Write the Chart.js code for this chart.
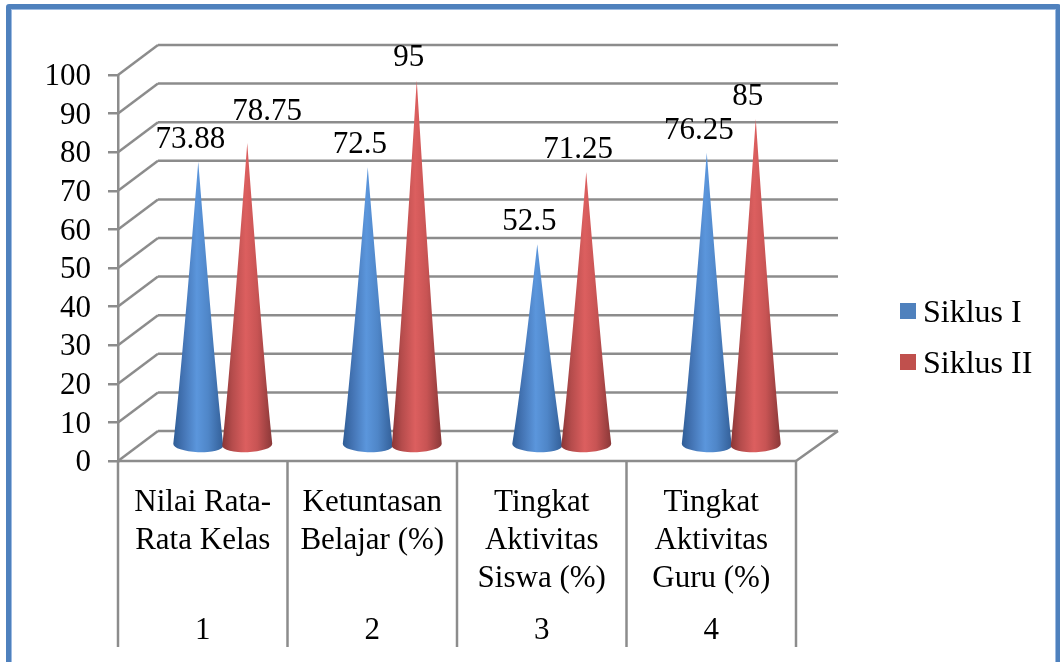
<!DOCTYPE html>
<html>
<head>
<meta charset="utf-8">
<title>Siklus I dan II</title>
<script src="https://cdn.jsdelivr.net/npm/chart.js@4/dist/chart.umd.min.js"></script>
<style>
    html, body { margin: 0; height: 100%; background: #fff; overflow: hidden; }
    #chart { position: absolute; left: 0; top: 0; }
    #frame {
        position: absolute; left: 6px; top: 4px; right: -1px; bottom: -20px;
        border: 5px solid #4f81bd; border-radius: 3px;
        box-shadow: inset 0 0 0 1px #9dbbe2;
    }
</style>
</head>
<body>
<canvas id="chart" width="1060" height="662"></canvas>
<div id="frame"></div>
<script>
const categories = [
    ['Nilai Rata-', 'Rata Kelas'],
    ['Ketuntasan', 'Belajar (%)'],
    ['Tingkat', 'Aktivitas', 'Siswa (%)'],
    ['Tingkat', 'Aktivitas', 'Guru (%)']
];
const rowNumbers = ['1', '2', '3', '4'];
const siklus1 = [73.88, 72.5, 52.5, 76.25];
const siklus2 = [78.75, 95, 71.25, 85];

const FONT = '"Liberation Serif", "Times New Roman", serif';
const FONT_SIZE = 31;
const GRID_COLOR = '#8c8c8c';
const WALL_DX = 40, WALL_DY = 30; // depth of the back wall
const CONE_DX = 20, CONE_DY = 14; // cones stand halfway to the wall

// gradient stops across a cone, left edge to right edge
const coneShades = [
    ['#2f5d96', '#4474b4', '#5b96dc', '#4f86c8', '#335f98'],
    ['#8a3636', '#b54c4c', '#dc5f5f', '#c85454', '#8a3838']
];
const coneTilt = [0.04, -0.04];

function line(ctx, x1, y1, x2, y2) {
    ctx.beginPath();
    ctx.moveTo(x1, y1);
    ctx.lineTo(x2, y2);
    ctx.stroke();
}

function drawWalls(chart) {
    const ctx = chart.ctx;
    const { left, right, bottom } = chart.chartArea;
    const y = chart.scales.y;
    const x = chart.scales.x;
    ctx.save();
    ctx.strokeStyle = GRID_COLOR;
    ctx.lineWidth = 2.5;
    y.ticks.forEach(t => {
        const py = y.getPixelForValue(t.value);
        line(ctx, left, py, left + WALL_DX, py - WALL_DY);
        line(ctx, left + WALL_DX, py - WALL_DY, right + WALL_DX + 2, py - WALL_DY);
    });
    // floor and the separators running down through the label rows
    line(ctx, left, bottom, right, bottom);
    line(ctx, right, bottom, right + WALL_DX + 2, bottom - WALL_DY);
    const step = x.width / categories.length;
    for (let i = 0; i <= categories.length; i++) {
        line(ctx, left + i * step, bottom, left + i * step, chart.scales.x2.bottom);
    }
    ctx.restore();
}

function drawCone(ctx, el, shades, tilt) {
    const cx = el.x + CONE_DX;
    const tip = el.y - CONE_DY;
    const baseY = el.base - CONE_DY - 1;
    const rx = el.width / 2 + 0.5;
    const ry = 7.5;
    const h = baseY - tip;
    const grad = ctx.createLinearGradient(cx - rx, 0, cx + rx, 0);
    [0, 0.2, 0.47, 0.7, 1].forEach((stop, i) => grad.addColorStop(stop, shades[i]));
    ctx.fillStyle = grad;
    ctx.beginPath();
    ctx.moveTo(cx, tip);
    // sides bow inwards a little before flaring to the base
    ctx.quadraticCurveTo(cx + rx * 0.68, tip + h * 0.75, cx + rx, baseY + rx * Math.sin(tilt));
    ctx.ellipse(cx, baseY, rx, ry, tilt, 0, Math.PI);
    ctx.quadraticCurveTo(cx - rx * 0.68, tip + h * 0.75, cx, tip);
    ctx.closePath();
    ctx.fill();
}

const conePlugin = {
    id: 'cones',
    beforeDatasetsDraw(chart, args, opts) {
        const ctx = chart.ctx;
        drawWalls(chart);
        chart.data.datasets.forEach((ds, i) => {
            chart.getDatasetMeta(i).data.forEach(el => drawCone(ctx, el, coneShades[i], coneTilt[i]));
        });
        ctx.save();
        ctx.font = FONT_SIZE + 'px ' + FONT;
        ctx.fillStyle = '#000';
        ctx.textAlign = 'center';
        ctx.textBaseline = 'middle';
        chart.data.datasets.forEach((ds, i) => {
            chart.getDatasetMeta(i).data.forEach((el, j) => {
                const moved = opts.labelMoves[i + ':' + j] || [0, 0];
                ctx.fillText(String(ds.data[j]),
                    el.x + CONE_DX - 8 + moved[0],
                    el.y - CONE_DY - 22 + moved[1]);
            });
        });
        ctx.restore();
        return false;
    }
};

const legendPlugin = {
    id: 'sideLegend',
    afterDraw(chart, args, opts) {
        const ctx = chart.ctx;
        ctx.save();
        ctx.font = '32px ' + FONT;
        ctx.textBaseline = 'middle';
        chart.data.datasets.forEach((ds, i) => {
            const y = opts.top + i * opts.gap;
            ctx.fillStyle = ds.backgroundColor;
            ctx.fillRect(opts.left, y - 8, 16, 16);
            ctx.fillStyle = '#000';
            ctx.fillText(ds.label, opts.left + 23, y + 3);
        });
        ctx.restore();
    }
};

new Chart(document.getElementById('chart'), {
    type: 'bar',
    data: {
        labels: categories,
        datasets: [
            { label: 'Siklus I', data: siklus1, backgroundColor: '#4f81bd' },
            { label: 'Siklus II', data: siklus2, backgroundColor: '#c0504d' }
        ]
    },
    plugins: [conePlugin, legendPlugin],
    options: {
        responsive: false,
        animation: false,
        categoryPercentage: 0.578,
        barPercentage: 1,
        layout: { padding: { top: 75, right: 264, bottom: 15, left: 0 } },
        plugins: {
            legend: { display: false },
            tooltip: { enabled: false },
            cones: { labelMoves: { '1:0': [28, -9] } },
            sideLegend: { left: 900, top: 311, gap: 51 }
        },
        scales: {
            y: {
                min: 0,
                max: 100,
                afterFit(scale) { scale.width = 118; },
                border: { display: true, color: GRID_COLOR, width: 2.5 },
                grid: { drawOnChartArea: false, color: GRID_COLOR, lineWidth: 2.5, tickLength: 10 },
                ticks: {
                    stepSize: 10,
                    autoSkip: false,
                    padding: 17,
                    labelOffset: 2,
                    color: '#000',
                    font: { family: FONT, size: FONT_SIZE }
                }
            },
            x: {
                afterFit(scale) { scale.height = 147; },
                border: { display: false },
                grid: { display: false, drawTicks: false },
                ticks: {
                    padding: 23,
                    autoSkip: false,
                    maxRotation: 0,
                    color: '#000',
                    font: { family: FONT, size: FONT_SIZE, lineHeight: 1.22 }
                }
            },
            x2: {
                type: 'category',
                labels: rowNumbers,
                position: 'bottom',
                weight: 1,
                offset: true,
                afterFit(scale) { scale.height = 39; },
                border: { display: false },
                grid: { display: false, drawTicks: false },
                ticks: {
                    padding: 4,
                    color: '#000',
                    font: { family: FONT, size: FONT_SIZE, lineHeight: 1.22 }
                }
            }
        }
    }
});
</script>
</body>
</html>
